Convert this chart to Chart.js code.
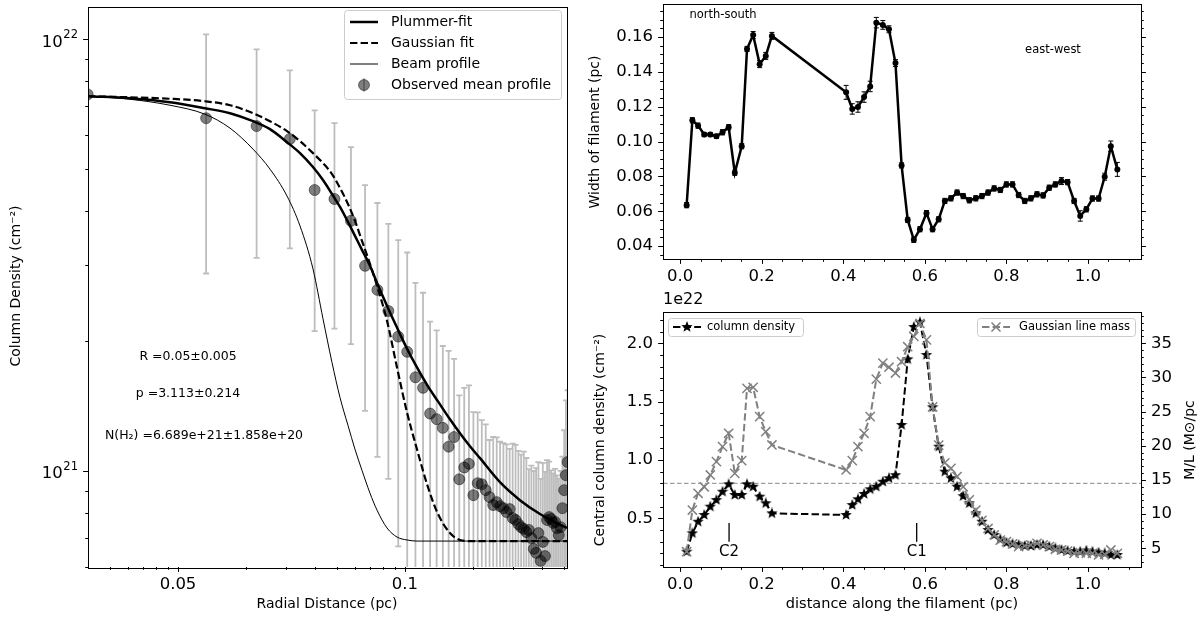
<!DOCTYPE html>
<html>
<head>
<meta charset="utf-8">
<title>Filament profile and properties</title>
<script src="https://cdn.jsdelivr.net/npm/chart.js@4.4.1/dist/chart.umd.min.js"></script>
<style>
  html, body { margin: 0; padding: 0; background: #fff; }
  #wrap { position: relative; width: 1200px; height: 622px; }
  #wrap canvas { position: absolute; left: 0; top: 0; }
</style>
</head>
<body>
<div id="wrap">
  <canvas id="profileChart" width="1200" height="622"></canvas>
  <canvas id="widthChart" width="1200" height="622"></canvas>
  <canvas id="densityChart" width="1200" height="622"></canvas>
</div>
<script>
// ---------- left panel: observed mean radial profile ----------
// x is in the units of the log axis as drawn (ticks labelled 0.05 and 0.1)
const profileR = [0.0040, 0.0133, 0.0222, 0.0311, 0.0400, 0.0489, 0.0578, 0.0667, 0.0756, 0.0845,
                  0.0934, 0.1023, 0.1112, 0.1201, 0.1290, 0.1379, 0.1468, 0.1557, 0.1646, 0.1735,
                  0.1824, 0.1913, 0.2002, 0.2091, 0.2180, 0.2269, 0.2358, 0.2447, 0.2536, 0.2625,
                  0.2714, 0.2803, 0.2892, 0.2981, 0.3070, 0.3159, 0.3248, 0.3337, 0.3426, 0.3515,
                  0.3604, 0.3693, 0.3782, 0.3871, 0.3960, 0.4049, 0.4138, 0.4227, 0.4316, 0.4405,
                  0.4494, 0.4583, 0.4672, 0.4761, 0.4850, 0.4939, 0.5028, 0.5117, 0.5206];
const profileN = [7.46e21, 6.57e21, 6.30e21, 5.88e21, 4.48e21, 4.27e21, 3.80e21, 2.99e21, 2.63e21, 2.35e21,
                  2.05e21, 1.89e21, 1.65e21, 1.56e21, 1.36e21, 1.32e21, 1.26e21, 1.14e21, 1.20e21, 9.58e20,
                  1.02e21, 1.04e21, 8.80e20, 9.38e20, 9.33e20, 9.04e20, 8.71e20, 8.35e20, 8.48e20, 8.30e20,
                  8.21e20, 8.04e20, 8.17e20, 7.79e20, 7.71e20, 7.54e20, 7.42e20, 7.35e20, 7.23e20, 7.31e20,
                  7.00e20, 6.61e20, 6.47e20, 7.19e20, 6.20e20, 6.86e20, 6.36e20, 7.71e20, 7.83e20, 7.75e20,
                  7.59e20, 7.63e20, 7.38e20, 7.11e20, 7.42e20, 8.21e20, 9.04e20, 9.79e20, 1.05e21];
const profileErr = [0, 3.70e21, 3.18e21, 2.60e21, 2.37e21, 2.13e21, 1.83e21, 1.61e21, 1.55e21, 1.39e21,
                    1.38e21, 1.32e21, 1.08e21, 1.03e21, 8.6e20, 8.0e20, 6.9e20, 7.6e20, 6.2e20, 5.4e20,
                    5.4e20, 5.4e20, 4.9e20, 4.3e20, 3.8e20, 3.8e20, 3.1e20, 3.65e20, 3.5e20, 3.4e20,
                    3.4e20, 3.5e20, 3.1e20, 3.8e20, 3.8e20, 3.6e20, 3.5e20, 3.75e20, 3.5e20, 2.8e20,
                    3.3e20, 3.4e20, 3.7e20, 3.3e20, 3.4e20, 3.6e20, 3.6e20, 2.9e20, 2.7e20, 2.3e20,
                    2.3e20, 2.5e20, 2.4e20, 2.5e20, 2.6e20, 2.6e20, 3.4e20, 4.8e20, 4.9e20];

// fitted curves
const curveR = [0.00401, 0.00614, 0.00922, 0.01315, 0.01695, 0.0214, 0.02542, 0.03021, 0.03447, 0.03932,
                0.04352, 0.0477, 0.05172, 0.05609, 0.06022, 0.06464, 0.0701, 0.07527, 0.0833, 0.09222,
                0.10205, 0.11296, 0.1263, 0.13979, 0.15785, 0.17473, 0.19333, 0.214, 0.26214, 0.32105,
                0.39332, 0.45793, 0.5174];
const plummerN = [7.386e21, 7.307e21, 7.154e21, 6.929e21, 6.747e21, 6.466e21, 6.197e21, 5.782e21, 5.454e21, 5.063e21,
                  4.725e21, 4.385e21, 4.093e21, 3.779e21, 3.508e21, 3.256e21, 2.991e21, 2.733e21, 2.418e21, 2.151e21,
                  1.923e21, 1.739e21, 1.572e21, 1.451e21, 1.319e21, 1.224e21, 1.142e21, 1.072e21, 9.43e20, 8.57e20,
                  7.96e20, 7.62e20, 7.39e20];
const gaussN = [7.386e21, 7.345e21, 7.288e21, 7.192e21, 7.040e21, 6.747e21, 6.466e21, 6.132e21, 5.813e21, 5.454e21,
                5.170e21, 4.877e21, 4.528e21, 4.158e21, 3.799e21, 3.416e21, 3.023e21, 2.690e21, 2.233e21, 1.739e21,
                1.369e21, 1.124e21, 9.18e20, 7.96e20, 7.19e20, 6.93e20, 6.89e20, 6.89e20, 6.89e20, 6.89e20,
                6.89e20, 6.89e20, 6.89e20];
const beamN = [7.386e21, 7.268e21, 7.040e21, 6.711e21, 6.231e21, 5.572e21, 5.009e21, 4.339e21, 3.700e21, 2.943e21,
               2.256e21, 1.785e21, 1.482e21, 1.277e21, 1.124e21, 1.005e21, 8.90e20, 8.13e20, 7.39e20, 7.04e20,
               6.93e20, 6.89e20, 6.89e20, 6.89e20, 6.89e20, 6.89e20, 6.89e20, 6.89e20, 6.89e20, 6.89e20,
               6.89e20, 6.89e20, 6.89e20];

// ---------- right panels: along the filament ----------
const distX = [0.016, 0.030, 0.044, 0.059, 0.074, 0.089, 0.104, 0.119, 0.134, 0.151,
               0.164, 0.179, 0.195, 0.210, 0.225, 0.407, 0.422, 0.436, 0.451, 0.466,
               0.481, 0.497, 0.512, 0.528, 0.543, 0.558, 0.573, 0.588, 0.604, 0.619,
               0.634, 0.649, 0.664, 0.679, 0.694, 0.709, 0.725, 0.740, 0.755, 0.770,
               0.785, 0.800, 0.815, 0.830, 0.845, 0.860, 0.875, 0.890, 0.905, 0.920,
               0.935, 0.950, 0.966, 0.981, 0.996, 1.011, 1.026, 1.041, 1.056, 1.072];
const widthPc = [0.0635, 0.1122, 0.1091, 0.1040, 0.1040, 0.1030, 0.1053, 0.1082, 0.0821, 0.0973,
                 0.1531, 0.1611, 0.1444, 0.1491, 0.1606, 0.1282, 0.1187, 0.1198, 0.1255, 0.1316,
                 0.1682, 0.1669, 0.1644, 0.1450, 0.0863, 0.0550, 0.0436, 0.0497, 0.0589, 0.0497,
                 0.0554, 0.0659, 0.0674, 0.0707, 0.0687, 0.0663, 0.0674, 0.0687, 0.0707, 0.0731,
                 0.0722, 0.0754, 0.0754, 0.0693, 0.0659, 0.0674, 0.0697, 0.0691, 0.0735, 0.0754,
                 0.0773, 0.0767, 0.0659, 0.0573, 0.0611, 0.0673, 0.0673, 0.0798, 0.0973, 0.0840];
const widthErr = [0.0015, 0.0015, 0.0015, 0.0012, 0.0012, 0.0012, 0.0015, 0.0015, 0.0015, 0.0015,
                  0.0015, 0.0020, 0.0020, 0.0020, 0.0020, 0.0040, 0.0030, 0.0030, 0.0030, 0.0030,
                  0.0030, 0.0025, 0.0020, 0.0020, 0.0015, 0.0015, 0.0015, 0.0015, 0.0015, 0.0015,
                  0.0015, 0.0015, 0.0015, 0.0015, 0.0015, 0.0015, 0.0015, 0.0015, 0.0015, 0.0015,
                  0.0015, 0.0015, 0.0015, 0.0015, 0.0015, 0.0015, 0.0015, 0.0015, 0.0015, 0.0015,
                  0.0020, 0.0015, 0.0015, 0.0030, 0.0015, 0.0015, 0.0015, 0.0020, 0.0030, 0.0040];
// central column density in units of 1e22 cm^-2
const colDens = [0.214, 0.372, 0.471, 0.529, 0.600, 0.657, 0.728, 0.792, 0.700, 0.700,
                 0.792, 0.771, 0.686, 0.629, 0.543, 0.529, 0.614, 0.663, 0.709, 0.749,
                 0.771, 0.814, 0.843, 0.870, 1.300, 1.863, 2.140, 2.180, 1.900, 1.452,
                 1.114, 0.900, 0.843, 0.771, 0.690, 0.629, 0.543, 0.471, 0.400, 0.357,
                 0.320, 0.291, 0.280, 0.271, 0.263, 0.263, 0.271, 0.271, 0.257, 0.243,
                 0.229, 0.220, 0.214, 0.214, 0.223, 0.214, 0.206, 0.200, 0.186, 0.186];
// Gaussian line mass, Msun/pc
const lineMass = [4.5, 10.6, 13.05, 14.0, 15.73, 17.68, 19.87, 21.83, 15.97, 17.82,
                  28.41, 28.56, 24.26, 22.06, 20.12, 16.46, 17.82, 19.87, 21.83, 24.26,
                  29.75, 32.1, 31.5, 30.65, 32.3, 34.5, 36.0, 37.9, 35.5, 25.7,
                  20.1, 17.5, 16.7, 15.5, 14.0, 12.1, 10.6, 9.1, 7.9, 6.95,
                  6.2, 5.97, 5.63, 5.24, 5.34, 5.48, 5.73, 5.48, 5.24, 4.85,
                  4.75, 4.6, 4.27, 4.36, 4.27, 4.27, 4.02, 4.1, 4.75, 4.27];
const densThreshold = 0.8;
const coreNames = ['C2', 'C1'];
const coreX = [0.12, 0.58];
const coreMarkLow = 0.30;
const coreMarkHigh = 0.46;
const coreLabelY = 0.21;

// ---------- ticks ----------
const profXMajor = [0.01, 0.1];
const profXLabels = ['0.05', '0.1'];
const profYMajor = [1e21, 1e22];
const profYLabels = ['21', '22'];   // powers of ten
const distMajor = [0, 0.2, 0.4, 0.6, 0.8, 1.0];
const distLabels = ['0.0', '0.2', '0.4', '0.6', '0.8', '1.0'];
const widthMajor = [0.04, 0.06, 0.08, 0.10, 0.12, 0.14, 0.16];
const widthLabels = ['0.04', '0.06', '0.08', '0.10', '0.12', '0.14', '0.16'];
const densMajor = [0.5, 1.0, 1.5, 2.0];
const densLabels = ['0.5', '1.0', '1.5', '2.0'];
const massMajor = [5, 10, 15, 20, 25, 30, 35];
const massLabels = ['5', '10', '15', '20', '25', '30', '35'];

// axis limits
const profXMin = 0.004013, profXMax = 0.5174;
const profYMin = 6.0e20, profYMax = 1.192e22;
const distMin = -0.042, distMax = 1.13;

const FONT = '"DejaVu Sans", "Liberation Sans", sans-serif';
const TICK_PX = 16.5;
Chart.defaults.font.family = FONT;

function font(px) { return px + 'px ' + FONT; }
function toPoints(xs, ys) { return xs.map((x, i) => ({ x: x, y: ys[i] })); }
function range(start, stop, step) {
  const out = [];
  for (let k = 0; start + k * step <= stop + 1e-9; k++) out.push(+(start + k * step).toFixed(6));
  return out;
}
function logMinor(decades, lo, hi) {
  const out = [];
  decades.forEach(d => {
    for (let m = 2; m <= 9; m++) {
      const v = m * d;
      if (v >= lo && v <= hi) out.push(v);
    }
  });
  return out;
}

// filled five point star, like the matplotlib '*' marker
function makeStar(size, color) {
  const c = document.createElement('canvas');
  c.width = c.height = size;
  const g = c.getContext('2d');
  const R = size / 2, r = R * 0.42;
  g.beginPath();
  for (let k = 0; k < 10; k++) {
    const ang = -Math.PI / 2 + k * Math.PI / 5;
    const rad = k % 2 ? r : R;
    g.lineTo(R + rad * Math.cos(ang), R + rad * Math.sin(ang));
  }
  g.closePath();
  g.fillStyle = color;
  g.fill();
  return c;
}
const starMarker = makeStar(12, '#000');

// ---------- drawing helpers (matplotlib look) ----------
function drawPower(ctx, exp, right, y) {
  ctx.font = font(TICK_PX * 0.7);
  const ws = ctx.measureText(exp).width;
  ctx.font = font(TICK_PX);
  const wb = ctx.measureText('10').width;
  const x0 = right - ws - wb - 0.5;
  ctx.textAlign = 'left';
  ctx.textBaseline = 'middle';
  ctx.fillText('10', x0, y + 3);
  ctx.font = font(TICK_PX * 0.7);
  ctx.fillText(exp, x0 + wb + 0.5, y - 4);
}

function drawAxis(ctx, sc, a, ax) {
  const mark = (v, len) => {
    const p = Math.round(sc.getPixelForValue(v)) + 0.5;
    ctx.beginPath();
    if (ax.side === 'bottom') { ctx.moveTo(p, a.bottom); ctx.lineTo(p, a.bottom + len); }
    else if (ax.side === 'left') { ctx.moveTo(a.left, p); ctx.lineTo(a.left - len, p); }
    else { ctx.moveTo(a.right, p); ctx.lineTo(a.right + len, p); }
    ctx.stroke();
  };
  (ax.minor || []).forEach(v => mark(v, 2.8));
  ax.major.forEach(v => mark(v, 4.9));
  if (!ax.labels) return;
  ctx.font = font(TICK_PX);
  ax.major.forEach((v, i) => {
    const p = sc.getPixelForValue(v);
    const lab = ax.labels[i];
    if (ax.side === 'bottom') {
      ctx.textAlign = 'center'; ctx.textBaseline = 'middle';
      ctx.fillText(lab, p, a.bottom + 18);
    } else if (ax.side === 'left') {
      if (ax.power) { drawPower(ctx, lab, a.left - 10, p); ctx.font = font(TICK_PX); }
      else { ctx.textAlign = 'right'; ctx.textBaseline = 'middle'; ctx.fillText(lab, a.left - 10, p); }
    } else {
      ctx.textAlign = 'left'; ctx.textBaseline = 'middle';
      ctx.fillText(lab, a.right + 10, p);
    }
  });
}

function drawText(chart, ctx, t) {
  let x = t.x, y = t.y;
  if (t.xs) x = chart.scales[t.xs].getPixelForValue(t.xv);
  if (t.ys) y = chart.scales[t.ys].getPixelForValue(t.yv);
  ctx.save();
  ctx.font = font(t.size);
  ctx.fillStyle = '#000';
  ctx.textAlign = t.align || 'center';
  ctx.textBaseline = 'middle';
  ctx.translate(x, y);
  if (t.rotate) ctx.rotate(t.rotate);
  ctx.fillText(t.text, 0, 0);
  ctx.restore();
}

function drawLegend(ctx, lg) {
  ctx.save();
  ctx.beginPath();
  ctx.roundRect(lg.x + 0.5, lg.y + 0.5, lg.w, lg.h, 3);
  ctx.fillStyle = 'rgba(255,255,255,0.8)';
  ctx.fill();
  ctx.strokeStyle = '#cccccc';
  ctx.lineWidth = 1;
  ctx.stroke();
  lg.items.forEach((it, i) => {
    const y = lg.y + lg.first + i * lg.step;
    const x0 = lg.x + lg.pad, x1 = x0 + lg.len, xm = (x0 + x1) / 2;
    if (it.lineWidth) {
      ctx.beginPath();
      ctx.setLineDash(it.dash || []);
      ctx.strokeStyle = it.color;
      ctx.lineWidth = it.lineWidth;
      ctx.moveTo(x0, y); ctx.lineTo(x1, y);
      ctx.stroke();
      ctx.setLineDash([]);
    }
    if (it.marker === 'circleErr') {
      ctx.beginPath();
      ctx.strokeStyle = '#bdbdbd'; ctx.lineWidth = 1.8;
      ctx.moveTo(xm, y - 7); ctx.lineTo(xm, y + 7);
      ctx.stroke();
      ctx.beginPath();
      ctx.arc(xm, y, 5.5, 0, Math.PI * 2);
      ctx.fillStyle = 'rgba(0,0,0,0.5)'; ctx.fill();
      ctx.strokeStyle = 'rgba(0,0,0,0.45)'; ctx.lineWidth = 1; ctx.stroke();
    } else if (it.marker === 'star') {
      ctx.drawImage(starMarker, xm - 6, y - 6);
    } else if (it.marker === 'cross') {
      ctx.beginPath();
      ctx.strokeStyle = it.color; ctx.lineWidth = 1.5;
      ctx.moveTo(xm - 4.5, y - 4.5); ctx.lineTo(xm + 4.5, y + 4.5);
      ctx.moveTo(xm - 4.5, y + 4.5); ctx.lineTo(xm + 4.5, y - 4.5);
      ctx.stroke();
    }
    ctx.fillStyle = '#000';
    ctx.font = font(lg.size);
    ctx.textAlign = 'left';
    ctx.textBaseline = 'middle';
    ctx.fillText(it.label, x1 + lg.gap, y);
  });
  ctx.restore();
}

// frame, ticks, labels, texts and legends drawn over the chart
function axesPlugin(cfg) {
  return {
    id: 'mplAxes',
    afterDraw(chart) {
      const ctx = chart.ctx, a = chart.chartArea;
      ctx.save();
      ctx.strokeStyle = '#000';
      ctx.fillStyle = '#000';
      ctx.lineWidth = 1;
      cfg.axes.forEach(ax => drawAxis(ctx, chart.scales[ax.scale], a, ax));
      ctx.strokeRect(Math.round(a.left) + 0.5, Math.round(a.top) + 0.5,
                     Math.round(a.right - a.left), Math.round(a.bottom - a.top));
      (cfg.texts || []).forEach(t => drawText(chart, ctx, t));
      (cfg.legends || []).forEach(l => drawLegend(ctx, l));
      ctx.restore();
    }
  };
}

// vertical error bars with caps, below the datasets
function errorBarPlugin(sets) {
  return {
    id: 'errorBars',
    beforeDatasetsDraw(chart) {
      const ctx = chart.ctx, a = chart.chartArea;
      ctx.save();
      ctx.beginPath();
      ctx.rect(a.left, a.top, a.right - a.left, a.bottom - a.top);
      ctx.clip();
      sets.forEach(s => {
        const ds = chart.data.datasets[s.dataset];
        const meta = chart.getDatasetMeta(s.dataset);
        const xs = chart.scales[meta.xAxisID], ys = chart.scales[meta.yAxisID];
        ctx.strokeStyle = s.color;
        ctx.lineWidth = s.width;
        ds.data.forEach((d, i) => {
          const e = s.err[i];
          if (!e) return;
          const px = xs.getPixelForValue(d.x);
          const top = ys.getPixelForValue(d.y + e);
          const low = d.y - e;
          const bot = low > ys.min ? ys.getPixelForValue(low) : a.bottom + 10;
          ctx.beginPath();
          ctx.moveTo(px, top); ctx.lineTo(px, bot);
          ctx.moveTo(px - s.cap, top); ctx.lineTo(px + s.cap, top);
          ctx.moveTo(px - s.cap, bot); ctx.lineTo(px + s.cap, bot);
          ctx.stroke();
        });
      });
      ctx.restore();
    }
  };
}

function baseOptions(padding, scales) {
  Object.values(scales).forEach(s => { s.display = false; s.bounds = 'data'; });
  return {
    responsive: false,
    animation: false,
    events: [],
    layout: { padding: padding },
    plugins: { legend: { display: false }, tooltip: { enabled: false } },
    scales: scales
  };
}

// ---------- left: radial profile ----------
const profileChart = new Chart(document.getElementById('profileChart'), {
  type: 'scatter',
  data: {
    datasets: [
      { label: 'Plummer-fit', data: toPoints(curveR, plummerN), showLine: true,
        borderColor: '#000', borderWidth: 2.5, pointRadius: 0, cubicInterpolationMode: 'monotone', clip: 0, order: 1 },
      { label: 'Gaussian fit', data: toPoints(curveR, gaussN), showLine: true,
        borderColor: '#000', borderWidth: 2.2, borderDash: [7.4, 3.2], pointRadius: 0, cubicInterpolationMode: 'monotone', clip: 0, order: 2 },
      { label: 'Beam profile', data: toPoints(curveR, beamN), showLine: true,
        borderColor: '#000', borderWidth: 1, pointRadius: 0, cubicInterpolationMode: 'monotone', clip: 0, order: 3 },
      { label: 'Observed mean profile', data: toPoints(profileR, profileN), showLine: false,
        pointRadius: 5.5, backgroundColor: 'rgba(0,0,0,0.5)', pointBackgroundColor: 'rgba(0,0,0,0.5)',
        pointBorderColor: 'rgba(0,0,0,0.45)', pointBorderWidth: 1, clip: 0, order: 4 }
    ]
  },
  options: baseOptions({ left: 88, right: 633, top: 5, bottom: 55 }, {
    x: { type: 'logarithmic', min: profXMin, max: profXMax },
    y: { type: 'logarithmic', min: profYMin, max: profYMax }
  }),
  plugins: [
    errorBarPlugin([{ dataset: 3, err: profileErr, color: '#bdbdbd', width: 1.8, cap: 3 }]),
    axesPlugin({
      axes: [
        { scale: 'x', side: 'bottom', major: profXMajor, labels: profXLabels,
          minor: logMinor([0.001, 0.01, 0.1], profXMin, profXMax) },
        { scale: 'y', side: 'left', major: profYMajor, labels: profYLabels, power: true,
          minor: logMinor([1e20, 1e21], profYMin * 0.999, profYMax) }
      ],
      texts: [
        { text: 'Column Density (cm\u207B\u00B2)', x: 16, y: 286, size: 14, rotate: -Math.PI / 2 },
        { text: 'Radial Distance (pc)', x: 327, y: 604, size: 14 },
        { text: 'R =0.05\u00B10.005', x: 188, y: 357, size: 12.5 },
        { text: 'p =3.113\u00B10.214', x: 188, y: 394, size: 12.5 },
        { text: 'N(H\u2082) =6.689e+21\u00B11.858e+20', x: 204, y: 436, size: 12.5 }
      ],
      legends: [{
        x: 344, y: 10, w: 217, h: 89, first: 12, step: 21, pad: 6, len: 28, gap: 13, size: 14,
        items: [
          { label: 'Plummer-fit', color: '#000', lineWidth: 2.5 },
          { label: 'Gaussian fit', color: '#000', lineWidth: 2.2, dash: [7.4, 3.2] },
          { label: 'Beam profile', color: '#000', lineWidth: 1 },
          { label: 'Observed mean profile', marker: 'circleErr' }
        ]
      }]
    })
  ]
});

// ---------- top right: filament width ----------
const widthChart = new Chart(document.getElementById('widthChart'), {
  type: 'scatter',
  data: {
    datasets: [
      { label: 'width', data: toPoints(distX, widthPc), showLine: true,
        borderColor: '#000', borderWidth: 2.5, pointRadius: 3, pointBorderWidth: 0,
        backgroundColor: '#000', pointBackgroundColor: '#000', pointBorderColor: '#000', clip: 0 }
    ]
  },
  options: baseOptions({ left: 663, right: 59, top: 4, bottom: 363 }, {
    x: { type: 'linear', min: distMin, max: distMax },
    y: { type: 'linear', min: 0.0326, max: 0.1789 }
  }),
  plugins: [
    errorBarPlugin([{ dataset: 0, err: widthErr, color: '#000', width: 1, cap: 2.5 }]),
    axesPlugin({
      axes: [
        { scale: 'x', side: 'bottom', major: distMajor, labels: distLabels, minor: range(0, 1.1, 0.05) },
        { scale: 'y', side: 'left', major: widthMajor, labels: widthLabels, minor: range(0.035, 0.175, 0.005) },
        { scale: 'y', side: 'right', major: widthMajor, minor: range(0.035, 0.175, 0.005) }
      ],
      texts: [
        { text: 'Width of filament (pc)', x: 595, y: 132, size: 14, rotate: -Math.PI / 2 },
        { text: 'north-south', x: 723, y: 15, size: 11.5 },
        { text: 'east-west', x: 1053, y: 50, size: 11.5 }
      ]
    })
  ]
});

// ---------- bottom right: column density and line mass ----------
const densityChart = new Chart(document.getElementById('densityChart'), {
  type: 'scatter',
  data: {
    datasets: [
      { label: 'Gaussian line mass', data: toPoints(distX, lineMass), yAxisID: 'y2', showLine: true,
        borderColor: '#808080', borderWidth: 2, borderDash: [7.4, 3.2],
        pointStyle: 'crossRot', pointRadius: 6.5, pointBorderColor: '#808080', pointBorderWidth: 1.5,
        pointBackgroundColor: '#808080', clip: 0, order: 1 },
      { label: 'column density', data: toPoints(distX, colDens), yAxisID: 'y', showLine: true,
        borderColor: '#000', borderWidth: 2, borderDash: [7.4, 3.2],
        pointStyle: starMarker, pointRadius: 5, clip: 0, order: 2 },
      { label: 'threshold', data: [{ x: distMin, y: densThreshold }, { x: distMax, y: densThreshold }], yAxisID: 'y',
        showLine: true, borderColor: '#888888', borderWidth: 1, borderDash: [4.5, 2.5], pointRadius: 0, clip: 0, order: 3 },
      ...coreX.map(cx => ({
        label: 'core', data: [{ x: cx, y: coreMarkLow }, { x: cx, y: coreMarkHigh }], yAxisID: 'y',
        showLine: true, borderColor: '#000', borderWidth: 1.3, pointRadius: 0, clip: 0, order: 3
      }))
    ]
  },
  options: baseOptions({ left: 663, right: 59, top: 312, bottom: 55 }, {
    x: { type: 'linear', min: distMin, max: distMax },
    y: { type: 'linear', position: 'left', min: 0.083, max: 2.268 },
    y2: { type: 'linear', position: 'right', min: 2.26, max: 39.58 }
  }),
  plugins: [
    axesPlugin({
      axes: [
        { scale: 'x', side: 'bottom', major: distMajor, labels: distLabels, minor: range(0, 1.1, 0.05) },
        { scale: 'y', side: 'left', major: densMajor, labels: densLabels, minor: range(0.1, 2.2, 0.1) },
        { scale: 'y2', side: 'right', major: massMajor, labels: massLabels, minor: range(3, 39, 1) }
      ],
      texts: [
        { text: '1e22', x: 663, y: 300, size: 16, align: 'left' },
        { text: 'Central column density (cm\u207B\u00B2)', x: 600, y: 440, size: 14, rotate: -Math.PI / 2 },
        { text: 'M/L (M\u2299/pc', x: 1190, y: 440, size: 14, rotate: -Math.PI / 2 },
        { text: 'distance along the filament (pc)', x: 902, y: 604, size: 14.5 },
        ...coreNames.map((name, i) => ({ text: name, xs: 'x', xv: coreX[i], ys: 'y', yv: coreLabelY, size: 15 }))
      ],
      legends: [
        { x: 668, y: 318, w: 135, h: 18, first: 9, step: 0, pad: 5, len: 28, gap: 6, size: 11.5,
          items: [{ label: 'column density', color: '#000', lineWidth: 2, dash: [7.4, 3.2], marker: 'star' }] },
        { x: 977, y: 318, w: 158, h: 18, first: 9, step: 0, pad: 5, len: 28, gap: 9, size: 11.5,
          items: [{ label: 'Gaussian line mass', color: '#808080', lineWidth: 2, dash: [7.4, 3.2], marker: 'cross' }] }
      ]
    })
  ]
});
</script>
</body>
</html>
